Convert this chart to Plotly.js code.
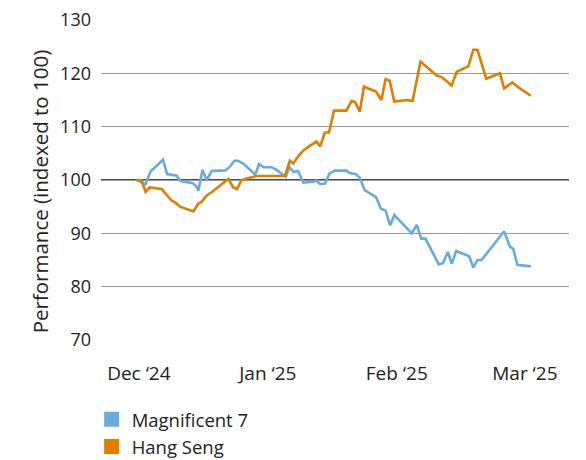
<!DOCTYPE html>
<html>
<head>
<meta charset="utf-8">
<script src="https://cdn.plot.ly/plotly-3.0.1.min.js"></script>
<style>html,body{margin:0;padding:0;background:#fff}#chart{width:586px;height:460px}</style>
</head>
<body>
<div id="chart"></div>
<script>
// x: days since 1 Dec 2024 (approximate)
const magX = [-0.55,1.6,2.8,5.8,6.8,8.2,9.1,10.0,10.6,13.0,13.9,14.3,15.3,16.3,17.5,20.8,21.9,23.0,23.8,25.1,28.0,28.9,30.0,31.9,33.1,34.7,35.3,36.2,37.2,38.3,38.6,39.5,41.9,42.7,43.5,44.7,45.8,47.1,49.9,50.7,52.2,53.1,54.3,57.0,58.2,59.3,60.4,61.4,65.6,66.8,67.9,68.9,72.1,73.1,74.3,75.2,76.3,79.4,80.4,81.4,82.4,87.8,89.2,90.0,91.0,94.2];
const magY = [100,99.2,101.6,103.8,101.1,100.9,100.8,99.8,99.7,99.4,98.75,98.0,101.9,100.0,101.7,101.8,102.5,103.6,103.6,103.1,101.0,103.0,102.4,102.4,101.9,100.9,100.6,102.4,101.5,101.7,101.1,99.5,99.7,99.9,99.25,99.3,101.2,101.75,101.75,101.3,101.1,100.4,98.1,96.8,94.6,94.3,91.5,93.4,90.0,91.6,89.0,89.0,84.2,84.4,86.5,84.3,86.7,85.7,83.6,85.0,85.0,90.4,87.5,87.1,84.1,83.8];
const hsX = [-0.55,0.65,1.6,2.6,5.5,6.6,7.9,8.7,9.9,13.1,14.3,15.1,16.3,17.5,19.9,21.5,22.7,23.6,24.7,25.5,28.3,35.1,36.3,37.1,38.3,39.5,41.1,42.7,43.6,44.7,45.7,46.9,49.9,51.1,52.0,53.1,54.1,57.0,58.3,59.3,60.3,61.4,64.5,65.8,67.7,71.6,72.8,75.2,76.4,79.2,80.4,81.4,83.5,86.8,87.8,89.8,91.0,94.2];
const hsY = [100,99.9,97.8,98.6,98.3,97.3,96.1,95.8,95.0,94.1,95.6,95.9,97.1,97.7,99.2,100.2,98.6,98.3,100.0,100.2,100.75,100.75,103.6,103.1,104.4,105.5,106.4,107.2,106.3,108.9,108.9,113.0,113.0,114.8,114.6,112.8,117.5,116.6,115.0,118.9,118.6,114.7,115.0,114.8,122.2,119.6,119.3,117.7,120.3,121.3,124.4,124.4,119.0,120.0,117.2,118.3,117.5,115.8];
const seriesNames = ['Magnificent 7', 'Hang Seng'];
const tickLabels = ['Dec ‘24', 'Jan ‘25', 'Feb ‘25', 'Mar ‘25'];
const tickPos = [0, 31, 62, 92.8];
const yTicks = [70, 80, 90, 100, 110, 120, 130];
const yTitle = 'Performance (indexed to 100)';

const blue = '#68ACDD', orange = '#E17E00';
const font = 'Open Sans, Noto Sans, sans-serif';

const traces = [
  {x: magX, y: magY, mode: 'lines', line: {color: blue, width: 2.6}, showlegend: false, hoverinfo: 'skip'},
  {x: hsX, y: hsY, mode: 'lines', line: {color: orange, width: 2.6}, showlegend: false, hoverinfo: 'skip'},
  {x: [null], y: [null], mode: 'markers', name: seriesNames[0], legendgroup: 'a', marker: {symbol: 'square', size: 15, color: blue}},
  {x: [null], y: [null], mode: 'markers', name: seriesNames[1], legendgroup: 'b', marker: {symbol: 'square', size: 15, color: orange}}
];

const layout = {
  width: 586, height: 460,
  margin: {l: 101, r: 17, t: 20, b: 120, autoexpand: false},
  paper_bgcolor: '#fff', plot_bgcolor: '#fff',
  font: {family: font, size: 18, color: '#222'},
  xaxis: {
    range: [-9.1, 103.4], tickvals: tickPos, ticktext: tickLabels,
    showgrid: false, zeroline: false, showline: false, ticks: '',
    ticklabelstandoff: 20, fixedrange: true, automargin: false,
    tickfont: {size: 19}
  },
  yaxis: {
    range: [70, 130], tickvals: yTicks, showgrid: true, gridcolor: '#9a9a9a', gridwidth: 1,
    zeroline: false, showline: false, ticks: '', ticklabelstandoff: 9, automargin: false,
    tickfont: {size: 18},
    fixedrange: true
  },
  annotations: [{text: yTitle, xref: 'paper', yref: 'paper', x: -0.13, y: 0.465,
                 xanchor: 'center', yanchor: 'middle', textangle: -90, showarrow: false,
                 font: {size: 20.5, color: '#222'}}],
  shapes: [{type: 'line', xref: 'paper', x0: 0, x1: 1, yref: 'y', y0: 100, y1: 100, line: {color: '#111', width: 1.3}, layer: 'below'}],
  legend: {x: -0.02, xanchor: 'left', y: -0.19, yanchor: 'top', orientation: 'v',
           traceorder: 'grouped', tracegroupgap: 0, font: {size: 18.5, color: '#222'}, bgcolor: 'rgba(0,0,0,0)'},
  showlegend: true
};

Plotly.newPlot('chart', traces, layout, {staticPlot: true, displayModeBar: false});
</script>
</body>
</html>
